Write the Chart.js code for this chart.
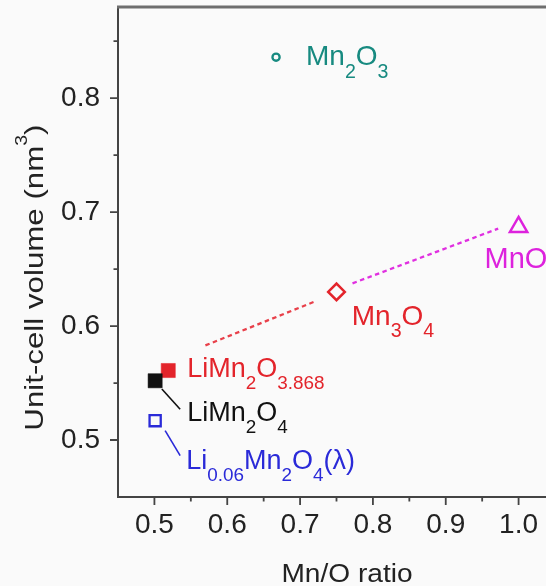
<!DOCTYPE html>
<html>
<head>
<meta charset="utf-8">
<script src="https://cdn.jsdelivr.net/npm/chart.js@4/dist/chart.umd.min.js"></script>
<style>
html,body{margin:0;padding:0;background:#fafafa;overflow:hidden;width:546px;height:586px}
canvas{display:block}
</style>
</head>
<body>
<canvas id="c" width="555" height="586"></canvas>
<script>
// ---------- data ----------
const compounds = ['Mn2O3', 'MnO', 'Mn3O4', 'LiMn2O3.868', 'LiMn2O4', 'Li0.06Mn2O4(λ)'];
const mnORatio   = [0.667, 1.000, 0.750, 0.519, 0.501, 0.501];
const cellVolume = [0.836, 0.687, 0.630, 0.561, 0.552, 0.517];
// label pieces: [text, 'sub' | '']
const labelParts = [
  [['Mn',''],['2','sub'],['O',''],['3','sub']],
  [['MnO','']],
  [['Mn',''],['3','sub'],['O',''],['4','sub']],
  [['LiMn',''],['2','sub'],['O',''],['3.868','sub']],
  [['LiMn',''],['2','sub'],['O',''],['4','sub']],
  [['Li',''],['0.06','sub'],['Mn',''],['2','sub'],['O',''],['4','sub'],['(λ)','']]
];
// dashed trend segments
const trendRedX = [0.570, 0.722];
const trendRedY = [0.583, 0.622];
const trendMagX = [0.772, 0.972];
const trendMagY = [0.6375, 0.6855];
// axes
const xTicks = [0.5, 0.6, 0.7, 0.8, 0.9, 1.0];
const xMinor = [0.55, 0.65, 0.75, 0.85, 0.95];
const yTicks = [0.5, 0.6, 0.7, 0.8];
const yMinor = [0.55, 0.65, 0.75, 0.85];
const xTitle = 'Mn/O ratio';
const yTitleParts = [['Unit-cell volume (nm',''],['3','sup'],[')','']];

// ---------- styles ----------
const FONT = "'Liberation Sans', Arial, Helvetica, sans-serif";
const colors       = ['#178a80', '#dd22dd', '#e3242b', '#e3242b', '#111111', '#2a2ad8'];
const pointStyles  = ['circle', 'triangle', 'rectRot', 'rect', 'rect', 'rect'];
const filled       = [false, false, false, true, true, false];
const radii        = [3.6, 10, 8.3, 10, 10, 7.9];
const borderWidths = [2.3, 2.5, 2.5, 0.5, 0.5, 2.3];
const drawOrder    = [1, 1, 1, 2, 1, 1];
// label placement relative to the point (px)
const labelDx   = [30, -34, 15.3, 19, 32, 31];
const labelDy   = [8.3, 41, 32.7, 6.5, 40.5, 48];
const labelSize = [28, 29, 28, 27, 27, 27];
// leader lines [dx1, dy1, dx2, dy2] relative to point, or null
const leaders = [null, null, null, null, [6.7, 8.3, 25, 28.5], [10, 10, 25, 35]];

const datasets = compounds.map((name, i) => ({
  label: name,
  data: [{x: mnORatio[i], y: cellVolume[i]}],
  pointStyle: pointStyles[i],
  pointRadius: radii[i],
  pointHoverRadius: radii[i],
  pointBorderWidth: borderWidths[i],
  borderColor: colors[i],
  backgroundColor: filled[i] ? colors[i] : 'rgba(0,0,0,0)',
  pointBackgroundColor: filled[i] ? colors[i] : 'rgba(0,0,0,0)',
  pointBorderColor: colors[i],
  showLine: false,
  clip: false,
  order: drawOrder[i]
}));
datasets.push({
  type: 'line', label: 'trend1',
  data: trendRedX.map((x, i) => ({x, y: trendRedY[i]})),
  borderColor: '#e8404a', borderWidth: 2.3, borderDash: [4.5, 3.5],
  pointRadius: 0, fill: false, order: 10
});
datasets.push({
  type: 'line', label: 'trend2',
  data: trendMagX.map((x, i) => ({x, y: trendMagY[i]})),
  borderColor: '#e030e0', borderWidth: 2.3, borderDash: [4.5, 3.5],
  pointRadius: 0, fill: false, order: 10
});

function drawParts(ctx, parts, x, y, F, color) {
  ctx.fillStyle = color;
  ctx.textBaseline = 'alphabetic';
  ctx.textAlign = 'left';
  let cx = x;
  parts.forEach(([t, kind]) => {
    let fs = F, dy = 0;
    if (kind === 'sub') { fs = F * 0.7; dy = F * 0.44; }
    if (kind === 'sup') { fs = F * 0.62; dy = -F * 0.6; }
    ctx.font = fs + 'px ' + FONT;
    ctx.fillText(t, cx, y + dy);
    cx += ctx.measureText(t).width;
  });
}

const annotations = {
  id: 'annotations',
  afterDatasetsDraw(chart) {
    const {ctx, scales: {x, y}} = chart;
    ctx.save();
    compounds.forEach((name, i) => {
      const px = x.getPixelForValue(mnORatio[i]);
      const py = y.getPixelForValue(cellVolume[i]);
      if (leaders[i]) {
        const [a, b, c, d] = leaders[i];
        ctx.strokeStyle = colors[i];
        ctx.lineWidth = 1.6;
        ctx.beginPath();
        ctx.moveTo(px + a, py + b);
        ctx.lineTo(px + c, py + d);
        ctx.stroke();
      }
      drawParts(ctx, labelParts[i], px + labelDx[i], py + labelDy[i], labelSize[i], colors[i]);
    });
    ctx.restore();
  }
};

const frame = {
  id: 'frame',
  afterDraw(chart) {
    const {ctx, chartArea: a, scales: {x, y}} = chart;
    ctx.save();
    ctx.strokeStyle = '#444';
    ctx.lineWidth = 1.8;
    ctx.beginPath();
    xTicks.forEach(v => { const p = x.getPixelForValue(v); ctx.moveTo(p, a.bottom); ctx.lineTo(p, a.bottom + 8); });
    xMinor.forEach(v => { const p = x.getPixelForValue(v); ctx.moveTo(p, a.bottom); ctx.lineTo(p, a.bottom + 4.5); });
    yTicks.forEach(v => { const p = y.getPixelForValue(v); ctx.moveTo(a.left, p); ctx.lineTo(a.left - 8, p); });
    yMinor.forEach(v => { const p = y.getPixelForValue(v); ctx.moveTo(a.left, p); ctx.lineTo(a.left - 4.5, p); });
    ctx.stroke();
    // top border
    ctx.strokeStyle = '#6e6e6e';
    ctx.lineWidth = 3;
    ctx.beginPath();
    ctx.moveTo(a.left - 1, a.top);
    ctx.lineTo(a.right, a.top);
    ctx.stroke();
    // axis titles
    ctx.fillStyle = '#222';
    ctx.font = '26px ' + FONT;
    ctx.textAlign = 'center';
    ctx.textBaseline = 'alphabetic';
    ctx.save();
    ctx.translate(a.left + 229, a.bottom + 84.7);
    ctx.scale(1.08, 1);
    ctx.fillText(xTitle, 0, 0);
    ctx.restore();
    ctx.save();
    ctx.translate(a.left - 74.7, a.bottom - 66.3);
    ctx.rotate(-Math.PI / 2);
    ctx.scale(1.18, 1);
    drawParts(ctx, yTitleParts, 0, 0, 26.5, '#222');
    ctx.restore();
    ctx.restore();
  }
};

function zeroPad(s) { s.paddingTop = 0; s.paddingBottom = 0; s.paddingLeft = 0; s.paddingRight = 0; }

new Chart(document.getElementById('c'), {
  type: 'scatter',
  data: {datasets},
  options: {
    responsive: false,
    animation: false,
    devicePixelRatio: 1,
    layout: {autoPadding: false, padding: {top: 7, left: 0, right: 0, bottom: 0}},
    plugins: {legend: {display: false}, tooltip: {enabled: false}},
    scales: {
      x: {
        type: 'linear', min: 0.45, max: 1.05,
        afterFit(s) { s.height = 89; zeroPad(s); },
        afterBuildTicks(s) { s.ticks = xTicks.map(v => ({value: v})); },
        grid: {display: false, drawTicks: false, tickLength: 0},
        border: {display: true, color: '#444', width: 2},
        ticks: {
          padding: 11, color: '#222', maxRotation: 0, autoSkip: false,
          font: {family: FONT, size: 28},
          callback: v => Number(v).toFixed(1)
        }
      },
      y: {
        type: 'linear', min: 0.45, max: 0.88,
        afterFit(s) { s.width = 118; zeroPad(s); },
        afterBuildTicks(s) { s.ticks = yTicks.map(v => ({value: v})); },
        grid: {display: false, drawTicks: false, tickLength: 0},
        border: {display: true, color: '#444', width: 2},
        ticks: {
          padding: 18, color: '#222', autoSkip: false,
          font: {family: FONT, size: 28},
          callback: v => Number(v).toFixed(1)
        }
      }
    }
  },
  plugins: [annotations, frame]
});
</script>
</body>
</html>
